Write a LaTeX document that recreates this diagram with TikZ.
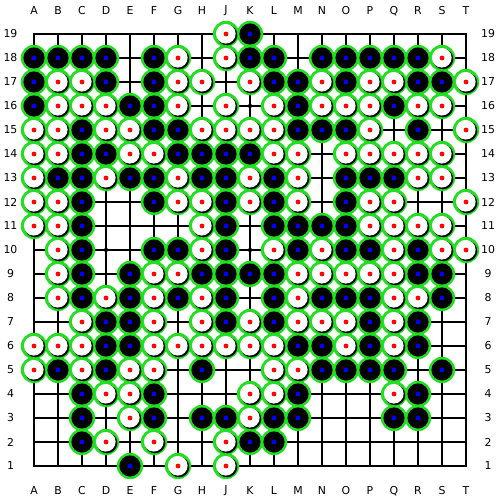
\documentclass[tikz,border=0pt]{standalone}
\usepackage{fontspec}
\setsansfont{DejaVu Sans}
\usepackage{tikz}
\definecolor{ringgreen}{HTML}{22DD22}
\definecolor{dotblue}{HTML}{0000FF}
\definecolor{dotred}{HTML}{FF0000}
% one entry per row, columns A..T (no I): b black, w white, o empty
\newcommand\boardrows{%
19/{o,o,o,o,o,o,o,o,w,b,o,o,o,o,o,o,o,o,o},
18/{b,b,b,b,o,b,w,o,w,b,b,o,b,b,b,b,b,w,o},
17/{b,w,w,b,o,b,w,w,o,w,b,b,w,b,w,w,b,b,w},
16/{b,w,w,w,b,b,w,o,w,o,w,b,w,w,w,b,w,w,o},
15/{w,w,b,w,w,b,b,w,w,w,w,b,b,b,w,o,b,o,w},
14/{w,w,b,b,w,w,b,b,b,b,w,w,o,w,w,w,w,w,o},
13/{w,b,b,w,b,b,w,b,b,w,b,w,o,b,b,b,w,w,o},
12/{w,w,b,o,o,b,w,w,b,w,b,w,o,b,w,w,o,o,w},
11/{w,w,b,o,o,o,o,w,b,o,b,b,b,b,w,w,w,w,o},
10/{o,w,b,o,o,b,b,w,b,o,w,b,w,b,b,w,b,w,w},
9/{o,w,b,o,b,w,w,b,b,b,b,w,w,w,w,w,b,b,o},
8/{o,w,b,w,b,w,b,w,b,o,b,w,b,b,b,w,w,b,o},
7/{o,o,w,b,b,w,o,w,b,w,b,w,w,w,b,w,b,o,o},
6/{w,w,w,b,b,w,w,w,w,w,w,b,b,w,b,w,b,o,o},
5/{w,b,w,b,w,w,o,b,o,o,w,w,b,b,b,b,o,b,o},
4/{o,o,b,w,w,b,o,o,o,w,w,b,o,o,o,w,b,o,o},
3/{o,o,b,o,w,b,o,b,b,w,b,b,o,o,o,b,b,o,o},
2/{o,o,b,w,o,w,o,o,w,b,b,o,o,o,o,o,o,o,o},
1/{o,o,o,o,b,o,w,o,w,o,o,o,o,o,o,o,o,o,o}}

\begin{document}
\begin{tikzpicture}[x=0.48cm,y=0.48cm,
			gridline/.style={black,line width=0.6pt},
			edgeline/.style={black,line width=1.2pt},
			ring/.style={fill=ringgreen},
			blackstone/.style={fill=black},
			whitestone/.style={fill=white},
			rim/.style={fill=black},
			coord/.style={inner sep=0pt,font=\fontsize{6.2}{7}\selectfont\sffamily}
			]
			\useasboundingbox (-0.4167,-0.4167) rectangle (20.4167,20.4167);
			\fill[white] (-0.4167,-0.4167) rectangle (20.4167,20.4167);
			% grid
			\foreach \k in {2,...,18} {
				\draw[gridline] (1,\k) -- (19,\k);
				\draw[gridline] (\k,1) -- (\k,19);
			}
			\draw[edgeline] (1,1) rectangle (19,19);
			\foreach \hx in {4,10,16}
				\foreach \hy in {4,10,16}
					\fill (\hx,\hy) circle (0.09);
			% coordinates
			\foreach \l [count=\c] in {A,B,C,D,E,F,G,H,J,K,L,M,N,O,P,Q,R,S,T} {
				\node[coord] (top-\l) at (\c,19.96) {\l};
				\node[coord] (bot-\l) at (\c,-0.04) {\l};
			}
			\foreach \r in {1,...,19} {
				\node[coord] (left-\r) at (0.02,\r) {\r};
				\node[coord] (right-\r) at (19.92,\r) {\r};
			}
			% green rings first, then the stones
			\foreach \r/\cells in \boardrows {
				\foreach \s [count=\c] in \cells {
					\if\s o\else \fill[ring] (\c,\r) circle (0.55); \fi
				}
			}
			\foreach \r/\cells in \boardrows {
				\foreach \s [count=\c] in \cells {
					\if\s b
						\fill[blackstone] (\c,\r) circle (0.44);
						\fill[dotblue] (\c,\r) circle (0.1);
					\fi
					\if\s w
						\fill[rim] (\c+0.04,\r-0.04) circle (0.43);
						\fill[whitestone] (\c-0.01,\r+0.01) circle (0.41);
						\fill[dotred] (\c,\r) circle (0.1);
					\fi
				}
			}
		\end{tikzpicture}
\end{document}
